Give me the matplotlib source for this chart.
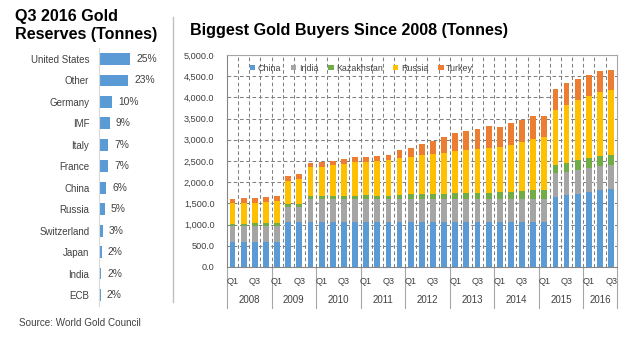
import matplotlib
matplotlib.use("Agg")
import matplotlib.pyplot as plt
from matplotlib.patches import Patch
from matplotlib.lines import Line2D
import numpy as np

plt.rcParams['font.family'] = ['Liberation Sans', 'DejaVu Sans']

# ---------------- data: left panel ----------------
countries = ["United States", "Other", "Germany", "IMF", "Italy", "France",
             "China", "Russia", "Switzerland", "Japan", "India", "ECB"]
shares = [24.6, 22.8, 10.2, 8.5, 7.4, 7.4, 5.6, 4.6, 3.1, 2.3, 1.7, 1.5]
share_labels = ["25%", "23%", "10%", "9%", "7%", "7%", "6%", "5%", "3%", "2%", "2%", "2%"]

# ---------------- data: right panel ----------------
years = ["2008", "2009", "2010", "2011", "2012", "2013", "2014", "2015", "2016"]
quarters = ["Q1", "Q2", "Q3", "Q4"] * 8 + ["Q1", "Q2", "Q3"]
series_names = ["China", "India", "Kazakhstan", "Russia", "Turkey"]
china = [600, 600, 600, 600, 600,
         1054, 1054, 1054, 1054, 1054, 1054, 1054, 1054, 1054, 1054, 1054,
         1054, 1054, 1054, 1054, 1054, 1054, 1054, 1054, 1054, 1054, 1054,
         1054, 1054, 1658, 1692, 1731, 1779, 1818, 1838]
india = [358, 358, 358, 358, 358, 358, 358,
         558, 558, 558, 558, 558, 558, 558, 558, 558, 558, 558, 558, 558,
         558, 558, 558, 558, 558, 558, 558, 558, 558, 558, 558, 558, 558,
         558, 558]
kazakhstan = [60, 62, 70, 72, 73, 70, 72, 70, 66, 67, 67, 67, 75, 68, 70,
              79, 100, 102, 110, 120, 125, 135, 140, 145, 150, 168, 180,
              195, 197, 190, 212, 236, 236, 252, 245]
russia = [485, 485, 484, 500, 532, 548, 587, 667, 680, 717, 756, 790, 787,
          830, 850, 874, 881, 921, 936, 960, 999, 1015, 1024, 1047, 1063,
          1090, 1149, 1212, 1252, 1291, 1362, 1417, 1449, 1495, 1542]
turkey = [95, 111, 119, 127, 119, 119, 119, 111, 118, 110, 118, 118, 118,
          118, 118, 204, 213, 260, 315, 370, 417, 449, 487, 520, 480, 519,
          535, 535, 511, 512, 512, 503, 495, 488, 473]

colors = ["#5B9BD5", "#A5A5A5", "#70AD47", "#FFC000", "#ED7D31"]
text_col = "#404040"

fig = plt.figure(figsize=(6.33, 3.37), dpi=100)

# ---------------- left panel ----------------
axl = fig.add_axes([99 / 633, 1 - 305.7 / 337, 71 / 633, 257.4 / 337])
ypos = np.arange(len(countries))
axl.barh(ypos, shares, height=0.55, color="#5B9BD5")
axl.set_ylim(len(countries) - 0.5, -0.5)
axl.set_xlim(0, 55.5)
axl.set_yticks(ypos)
axl.set_yticklabels(countries, fontsize=7, color=text_col)
axl.tick_params(axis='y', length=0, pad=7)
axl.set_xticks([])
for s in ["top", "right", "bottom"]:
    axl.spines[s].set_visible(False)
axl.spines["left"].set_color("#D9D9D9")
axl.spines["left"].set_linewidth(0.8)
for y, v, lab in zip(ypos, shares, share_labels):
    axl.annotate(lab, (v, y), xytext=(4.3, 0), textcoords="offset points",
                 va="center", ha="left", fontsize=7.4, color=text_col)

fig.text(15 / 633, 1 - 20.5 / 337, "Q3 2016 Gold", fontsize=11.6, fontweight="bold",
         color="black", va="baseline", ha="left")
fig.text(15 / 633, 1 - 38.5 / 337, "Reserves (Tonnes)", fontsize=11.6, fontweight="bold",
         color="black", va="baseline", ha="left")
fig.text(19 / 633, 1 - 322.7 / 337, "Source: World Gold Council", fontsize=7.1,
         color=text_col, va="center", ha="left")

# separator line
fig.add_artist(Line2D([172.7 / 633, 172.7 / 633], [1 - 17 / 337, 1 - 302 / 337],
                      transform=fig.transFigure, color="#BFBFBF", lw=1))

# ---------------- right panel ----------------
ax = fig.add_axes([227 / 633, 1 - 267 / 337, (616.7 - 227) / 633, (267 - 55) / 337])
n = len(china)
x = np.arange(n)
bottom = np.zeros(n)
for name, vals, c in zip(series_names, [china, india, kazakhstan, russia, turkey], colors):
    vals = np.array(vals, dtype=float)
    ax.bar(x, vals, bottom=bottom, width=0.52, color=c, label=name, zorder=3)
    bottom += vals

ax.set_xlim(-0.5, n - 0.5)
ax.set_ylim(0, 5000)
yt = np.arange(0, 5001, 500)
ax.set_yticks(yt)
ax.set_yticklabels([f"{v:,.1f}" for v in yt], fontsize=6.6, color=text_col)
ax.tick_params(axis='y', length=0, pad=9)
ax.set_xticks([])
ax.grid(False)
for v in yt[1:]:
    ax.axhline(v, color="#808080", lw=0.75, ls=(0, (3.5, 2.5)), zorder=1)
for b in np.arange(0.5, n - 0.5, 1.0):
    ax.axvline(b, color="#808080", lw=0.75, ls=(0, (3.5, 2.5)), zorder=1)
for s in ["top", "right"]:
    ax.spines[s].set_color("#A6A6A6")
    ax.spines[s].set_linewidth(0.8)
for s in ["left", "bottom"]:
    ax.spines[s].set_color("#868686")
    ax.spines[s].set_linewidth(0.8)

# multi-level category axis
trans = ax.get_xaxis_transform()
for i, q in enumerate(quarters):
    if q in ("Q1", "Q3"):
        ax.text(i, -15 / 212, q, transform=trans, ha="center", va="center",
                fontsize=6.6, color=text_col)
for k, yr in enumerate(years):
    start = 4 * k
    end = min(4 * k + 4, n)
    ax.text((start + end - 1) / 2, -33 / 212, yr, transform=trans, ha="center",
            va="center", fontsize=7, color=text_col)
boundaries = [4 * k - 0.5 for k in range(len(years))] + [n - 0.5]
for b in boundaries:
    ax.add_line(Line2D([b, b], [0, -41 / 212], transform=trans, color="#A6A6A6",
                       lw=0.8, clip_on=False))

handles = [Patch(facecolor=c, edgecolor="none") for c in colors]
ax.legend(handles, series_names, loc="upper left", bbox_to_anchor=(0.045, 0.985),
          ncol=5, frameon=False, fontsize=6.4, handlelength=0.6, handleheight=0.6,
          handletextpad=0.3, columnspacing=1.1, borderaxespad=0.2,
          labelcolor=text_col)

fig.text(190 / 633, 1 - 35 / 337, "Biggest Gold Buyers Since 2008 (Tonnes)",
         fontsize=11.6, fontweight="bold", color="black", va="baseline", ha="left")

fig.savefig("out.png", dpi=100, facecolor="white")
